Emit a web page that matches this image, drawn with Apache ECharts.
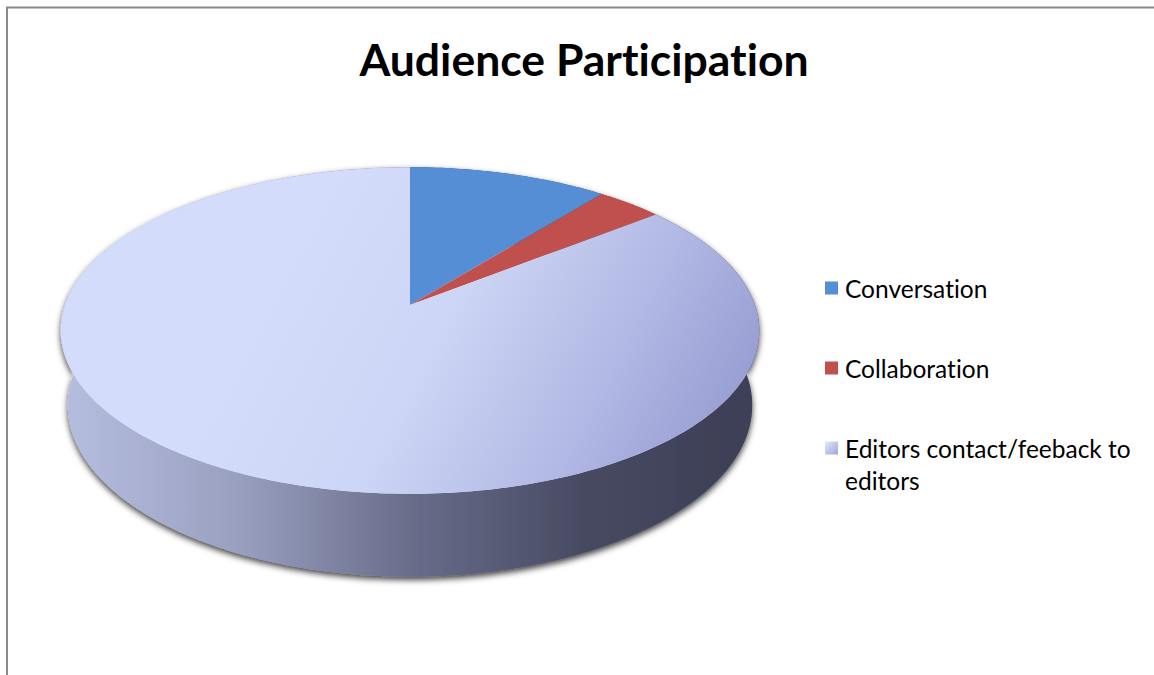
<!DOCTYPE html>
<html>
<head>
<meta charset="utf-8">
<script src="https://cdn.jsdelivr.net/npm/echarts@6/dist/echarts.min.js"></script>
<style>
html,body{margin:0;padding:0;background:#fff;}
#chart{width:1154px;height:675px;}
#chart text, #chart tspan{font-variant-ligatures:none !important;font-feature-settings:"liga" 0,"clig" 0 !important;}
</style>
</head>
<body>
<div id="chart"></div>
<script>
// ---- data ----
const titleText = 'Audience Participation';
const categories = ['Conversation', 'Collaboration', 'Editors contact/feeback to editors'];
const values = [3, 1, 24];

// ---- styles ----
const FONT = 'Lato';
const topColors = ['#558ed5', '#c0504d', null];

const chart = echarts.init(document.getElementById('chart'), null, {renderer: 'svg'});

// 3D projection of a cylinder (pie) with perspective
const P = {cx: 410, cy: 305, k: 345, alpha: 27.5 * Math.PI / 180, D: 5.68, H: 0.2466};
function proj(phi, yup) {
  const X = Math.sin(phi), Z = -Math.cos(phi);
  const ca = Math.cos(P.alpha), sa = Math.sin(P.alpha);
  const u = yup * ca - Z * sa;
  const w = yup * sa + Z * ca;
  const s = P.D / (P.D - w);
  return [P.cx + X * P.k * s, P.cy - u * P.k * s];
}
const total = values.reduce((a, b) => a + b, 0);
function sliceAngles(i) {
  let before = 0;
  for (let j = 0; j < i; j++) before += values[j];
  const a0 = 2 * Math.PI * before / total;
  const a1 = 2 * Math.PI * (before + values[i]) / total;
  return [a0, a1];
}
function arc(a0, a1, yup) {
  const n = Math.max(4, Math.ceil((a1 - a0) / (Math.PI / 180)));
  const pts = [];
  for (let t = 0; t <= n; t++) pts.push(proj(a0 + (a1 - a0) * t / n, yup));
  return pts;
}

const topGradient = new echarts.graphic.LinearGradient(300, 250, 720, 470, [
  {offset: 0, color: '#d3dcfa'},
  {offset: 0.35, color: '#ccd5f5'},
  {offset: 0.7, color: '#b1b8e4'},
  {offset: 1, color: '#959bd0'}
], true);
const sideGradient = new echarts.graphic.LinearGradient(61, 0, 760, 0, [
  {offset: 0, color: '#b6bee0'},
  {offset: 0.25, color: '#9aa0c0'},
  {offset: 0.5, color: '#686d8a'},
  {offset: 0.75, color: '#474a62'},
  {offset: 1, color: '#3c3e55'}
], true);
const legendGradient = new echarts.graphic.LinearGradient(0, 0, 1, 1, [
  {offset: 0, color: '#e4e9fb'},
  {offset: 1, color: '#9fa5d8'}
]);

function makeSeries(i) {
  const fillTop = topColors[i] || topGradient;
  return {
    type: 'custom',
    name: categories[i],
    coordinateSystem: 'none',
    itemStyle: {color: topColors[i] || legendGradient},
    data: [values[i]],
    silent: true,
    renderItem: function () {
      const [a0, a1] = sliceAngles(i);
      const topArc = arc(a0, a1, 0);
      const botArc = arc(a0, a1, -P.H).reverse();
      const topPts = [[P.cx, P.cy]].concat(topArc);
      const sidePts = topArc.concat(botArc);
      return {
        type: 'group',
        children: [
          {
            type: 'polygon',
            z2: 1,
            shape: {points: sidePts},
            style: {
              fill: topColors[i] ? echarts.color.modifyHSL(topColors[i], null, null, 0.35) : sideGradient,
              shadowBlur: 6,
              shadowColor: 'rgba(0,0,0,0.75)',
              shadowOffsetY: 3
            }
          },
          {
            type: 'polygon',
            z2: 10,
            shape: {points: topPts},
            style: {fill: fillTop}
          }
        ]
      };
    }
  };
}

function makeLegend(i, top, fmt) {
  return {
    data: [categories[i]],
    orient: 'vertical',
    left: 825,
    top: top,
    padding: 0,
    icon: 'rect',
    itemWidth: 13,
    itemHeight: 13,
    itemGap: 0,
    selectedMode: false,
    formatter: fmt,
    textStyle: {
      fontFamily: FONT,
      fontSize: 24.5,
      color: '#000',
      lineHeight: 32,
      padding: [0, 0, 0, 2],
      width: 300,
      overflow: 'break'
    }
  };
}

const option = {
  backgroundColor: '#ffffff',
  animation: false,
  title: {
    text: titleText,
    left: 579,
    top: 31,
    textAlign: 'center',
    textStyle: {fontFamily: FONT, fontSize: 44.5, fontWeight: 'bold', color: '#000'}
  },
  legend: [
    makeLegend(0, 272),
    makeLegend(1, 352),
    makeLegend(2, 400, function (name) { return '\n' + name; })
  ],
  graphic: [
    {
      type: 'polyline',
      silent: true,
      shape: {points: [[7, 675], [7, 7.5], [1154, 7.5]]},
      style: {stroke: '#8a8a8a', lineWidth: 2, fill: null}
    }
  ],
  series: [makeSeries(0), makeSeries(1), makeSeries(2)]
};
chart.setOption(option);
</script>
</body>
</html>
